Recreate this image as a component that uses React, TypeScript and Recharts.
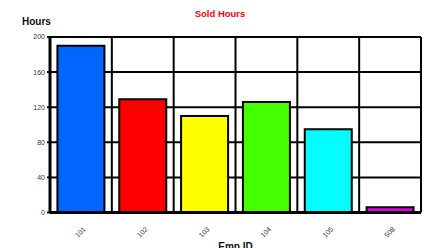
import { BarChart, Bar, XAxis, YAxis, CartesianGrid, Cell } from "recharts";

const empIds = ["101", "102", "103", "104", "105", "508"];
const hours = [190, 129, 110, 126, 95, 6];
const barColors = ["#0066ff", "#ff0000", "#ffff00", "#44ff00", "#00ffff", "#e000e0"];
const yTicks = [0, 40, 80, 120, 160, 200];

const data = empIds.map((id, i) => ({ id, hours: hours[i] }));

const font = "'Liberation Sans', Arial, sans-serif";

function XTick(props: any) {
  const { x, y, payload } = props;
  return (
    <g transform={`translate(${x},${y + 12})`}>
      <text
        transform="rotate(-45)"
        textAnchor="middle"
        dominantBaseline="middle"
        fontSize={7}
        fill="#333"
        fontFamily={font}
      >
        {payload.value}
      </text>
    </g>
  );
}

export default function App() {
  return (
    <div style={{ position: "absolute", left: 0, top: 0, width: 430, height: 248, background: "#fff", fontFamily: font }}>
      <div style={{ position: "absolute", left: 0, width: 440, top: 8, textAlign: "center", color: "#ff0000", fontWeight: "bold", fontSize: 9.5 }}>
        Sold Hours
      </div>
      <div style={{ position: "absolute", left: 22, top: 16, fontWeight: "bold", fontSize: 10, color: "#111" }}>
        Hours
      </div>
      <div style={{ position: "absolute", left: 50, width: 371, top: 241, textAlign: "center", fontWeight: "bold", fontSize: 10, color: "#111" }}>
        Emp ID
      </div>
      <BarChart
        width={430}
        height={248}
        data={data}
        margin={{ top: 37, right: 9, bottom: 0, left: 0 }}
        barCategoryGap="12%"
      >
        <CartesianGrid
          stroke="#000"
          strokeWidth={2}
          verticalCoordinatesGenerator={({ offset }: any) =>
            empIds.map((_, i) => offset.left + ((i + 1) * offset.width) / empIds.length)
          }
        />
        <XAxis
          dataKey="id"
          height={35.5}
          tick={<XTick />}
          tickLine={false}
          axisLine={{ stroke: "#000", strokeWidth: 3 }}
        />
        <YAxis
          width={50}
          domain={[0, 200]}
          ticks={yTicks}
          tickSize={3}
          tickLine={{ stroke: "#000", strokeWidth: 2 }}
          axisLine={{ stroke: "#000", strokeWidth: 3 }}
          tick={{ fontSize: 7, fill: "#333", fontFamily: font }}
        />
        <Bar dataKey="hours" stroke="#000" strokeWidth={2} isAnimationActive={false}>
          {data.map((d, i) => (
            <Cell key={d.id} fill={barColors[i]} />
          ))}
        </Bar>
      </BarChart>
    </div>
  );
}
